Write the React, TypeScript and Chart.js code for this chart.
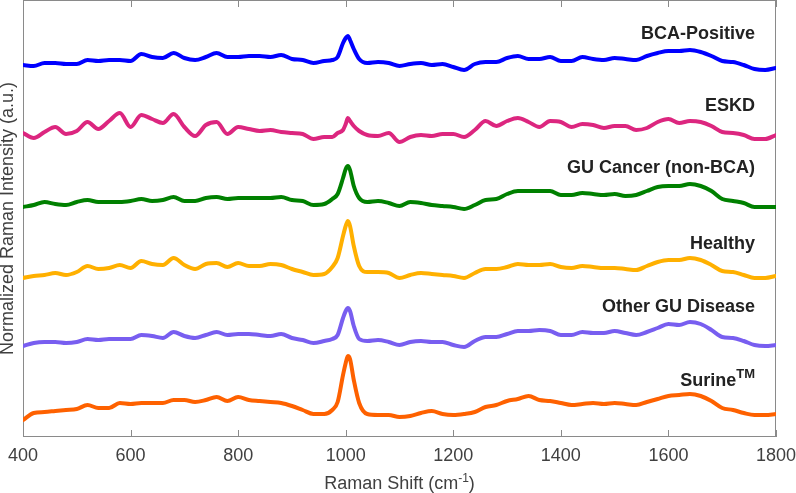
import React, { useEffect, useRef } from "react";
import { Chart, registerables } from "chart.js";

Chart.register(...registerables);

// Raman shift (cm^-1) sampling positions
const ramanShift = [
  400, 420, 440, 460, 480, 500, 520, 540, 560, 580, 600, 620, 640, 660, 680, 700, 720, 740, 760, 780,
  800, 820, 840, 860, 880, 900, 920, 940, 960, 975, 985, 995, 1000, 1004, 1008, 1015, 1025, 1040, 1060, 1080,
  1100, 1120, 1140, 1160, 1180, 1200, 1220, 1240, 1260, 1280, 1300, 1320, 1340, 1360, 1380, 1400, 1420, 1440, 1460, 1480,
  1500, 1520, 1540, 1560, 1580, 1600, 1620, 1640, 1660, 1680, 1700, 1720, 1740, 1760, 1780, 1800,
];

// Normalized (offset) Raman intensities, a.u.
const bcaPositive = [
  3.72, 3.71, 3.74, 3.74, 3.73, 3.73, 3.77, 3.76, 3.77, 3.77, 3.76, 3.83, 3.80, 3.79, 3.84, 3.79, 3.77, 3.80, 3.84, 3.80,
  3.80, 3.81, 3.81, 3.80, 3.82, 3.78, 3.77, 3.74, 3.76, 3.77, 3.80, 3.94, 3.99, 4.01, 3.97, 3.88, 3.78, 3.74, 3.75, 3.74,
  3.71, 3.73, 3.74, 3.72, 3.73, 3.70, 3.67, 3.73, 3.75, 3.75, 3.79, 3.81, 3.78, 3.78, 3.80, 3.76, 3.76, 3.80, 3.78, 3.77,
  3.79, 3.78, 3.77, 3.81, 3.84, 3.86, 3.86, 3.87, 3.85, 3.81, 3.76, 3.75, 3.72, 3.68, 3.67, 3.69,
];
const eskd = [
  3.04, 2.99, 3.05, 3.10, 3.03, 3.06, 3.15, 3.08, 3.16, 3.24, 3.10, 3.22, 3.18, 3.14, 3.23, 3.10, 3.01, 3.12, 3.15, 3.03,
  3.10, 3.08, 3.06, 3.07, 3.05, 3.04, 3.03, 2.98, 3.00, 3.00, 3.04, 3.07, 3.13, 3.19, 3.16, 3.11, 3.06, 3.02, 3.01, 3.04,
  2.95, 3.00, 3.02, 3.01, 3.03, 3.03, 3.00, 3.07, 3.16, 3.11, 3.16, 3.19, 3.15, 3.10, 3.16, 3.15, 3.10, 3.13, 3.12, 3.09,
  3.11, 3.11, 3.07, 3.09, 3.15, 3.18, 3.14, 3.16, 3.15, 3.11, 3.05, 3.04, 3.02, 2.98, 2.98, 3.02,
];
const guCancer = [
  2.30, 2.32, 2.35, 2.33, 2.32, 2.35, 2.37, 2.35, 2.35, 2.35, 2.36, 2.38, 2.36, 2.37, 2.40, 2.36, 2.36, 2.39, 2.40, 2.38,
  2.39, 2.39, 2.39, 2.39, 2.40, 2.37, 2.36, 2.32, 2.33, 2.38, 2.43, 2.59, 2.68, 2.71, 2.67, 2.51, 2.39, 2.35, 2.36, 2.34,
  2.31, 2.35, 2.34, 2.32, 2.31, 2.30, 2.28, 2.32, 2.37, 2.38, 2.43, 2.46, 2.46, 2.46, 2.46, 2.42, 2.42, 2.44, 2.43, 2.42,
  2.43, 2.41, 2.42, 2.46, 2.50, 2.51, 2.51, 2.53, 2.51, 2.46, 2.38, 2.36, 2.34, 2.30, 2.30, 2.30,
];
const healthy = [
  1.59, 1.61, 1.62, 1.64, 1.62, 1.65, 1.71, 1.68, 1.69, 1.72, 1.69, 1.76, 1.73, 1.72, 1.79, 1.72, 1.68, 1.73, 1.74, 1.70,
  1.74, 1.71, 1.71, 1.73, 1.72, 1.68, 1.65, 1.62, 1.63, 1.70, 1.79, 2.01, 2.11, 2.16, 2.11, 1.91, 1.71, 1.65, 1.65, 1.64,
  1.59, 1.62, 1.64, 1.63, 1.62, 1.61, 1.59, 1.64, 1.68, 1.68, 1.70, 1.73, 1.72, 1.72, 1.73, 1.70, 1.69, 1.71, 1.70, 1.69,
  1.69, 1.68, 1.67, 1.71, 1.75, 1.77, 1.77, 1.79, 1.77, 1.72, 1.66, 1.65, 1.62, 1.59, 1.59, 1.61,
];
const otherGU = [
  0.91, 0.94, 0.95, 0.95, 0.94, 0.95, 0.98, 0.97, 0.98, 0.98, 0.98, 1.02, 1.01, 0.99, 1.05, 1.01, 0.99, 1.02, 1.05, 1.02,
  1.03, 1.03, 1.02, 1.01, 1.03, 0.99, 0.97, 0.94, 0.96, 0.98, 1.02, 1.19, 1.26, 1.29, 1.26, 1.11, 0.98, 0.96, 0.97, 0.95,
  0.92, 0.95, 0.96, 0.95, 0.95, 0.92, 0.90, 0.96, 1.00, 1.00, 1.03, 1.06, 1.06, 1.07, 1.06, 1.02, 1.02, 1.05, 1.04, 1.04,
  1.06, 1.04, 1.02, 1.05, 1.09, 1.13, 1.12, 1.15, 1.13, 1.07, 1.00, 0.99, 0.96, 0.92, 0.91, 0.92,
];
const surine = [
  0.17, 0.24, 0.25, 0.26, 0.27, 0.28, 0.32, 0.29, 0.29, 0.34, 0.33, 0.34, 0.34, 0.34, 0.37, 0.37, 0.35, 0.37, 0.40, 0.36,
  0.40, 0.37, 0.36, 0.35, 0.34, 0.31, 0.27, 0.23, 0.23, 0.27, 0.35, 0.62, 0.74, 0.81, 0.78, 0.57, 0.34, 0.23, 0.22, 0.22,
  0.20, 0.21, 0.24, 0.26, 0.23, 0.22, 0.23, 0.25, 0.30, 0.32, 0.36, 0.38, 0.41, 0.37, 0.36, 0.34, 0.32, 0.33, 0.34, 0.33,
  0.34, 0.33, 0.32, 0.35, 0.38, 0.41, 0.42, 0.43, 0.41, 0.36, 0.29, 0.27, 0.24, 0.22, 0.22, 0.23,
];

const seriesNames = ["BCA-Positive", "ESKD", "GU Cancer (non-BCA)", "Healthy", "Other GU Disease", "Surine"];
const seriesSuperscripts = ["", "", "", "", "", "TM"];
const seriesValues = [bcaPositive, eskd, guCancer, healthy, otherGU, surine];
const seriesColors = ["#0000FF", "#DC267F", "#008000", "#FFB000", "#785EF0", "#FE6100"];

// Label anchors (right edge) in data coordinates
const labelShift = 1761;
const labelIntensity = [4.03, 3.31, 2.69, 1.93, 1.3, 0.56];

const xTicks = [400, 600, 800, 1000, 1200, 1400, 1600, 1800];
const xMin = 400;
const xMax = 1800;
const yMin = 0;
const yMax = 4.37;

const FONT = "'Liberation Sans', Arial, Helvetica, sans-serif";
const AXIS_TEXT = "#404040";

const framePlugin = {
  id: "frame",
  beforeDatasetsDraw(chart: any) {
    const { ctx, chartArea, scales } = chart;
    const { left, right, top, bottom } = chartArea;
    ctx.save();
    ctx.strokeStyle = "#8a8a8a";
    ctx.lineWidth = 1;
    ctx.strokeRect(left + 0.5, top + 0.5, right - left - 1, bottom - top - 1);
    ctx.beginPath();
    for (const v of xTicks) {
      const px = Math.round(scales.x.getPixelForValue(v)) + 0.5;
      ctx.moveTo(px, bottom);
      ctx.lineTo(px, bottom - 7);
      ctx.moveTo(px, top);
      ctx.lineTo(px, top + 7);
    }
    ctx.stroke();
    ctx.restore();
  },
};

const textPlugin = {
  id: "texts",
  afterDatasetsDraw(chart: any) {
    const { ctx, chartArea, scales } = chart;
    ctx.save();
    // series labels
    ctx.fillStyle = "#222222";
    ctx.textBaseline = "middle";
    seriesNames.forEach((name, i) => {
      const xr = scales.x.getPixelForValue(labelShift);
      const ym = scales.y.getPixelForValue(labelIntensity[i]);
      const sup = seriesSuperscripts[i];
      let supW = 0;
      if (sup) {
        ctx.font = `bold 13px ${FONT}`;
        supW = ctx.measureText(sup).width;
        ctx.textAlign = "left";
        ctx.fillText(sup, xr - supW, ym - 7);
      }
      ctx.font = `bold 18px ${FONT}`;
      ctx.textAlign = "right";
      ctx.fillText(name, xr - supW, ym);
    });
    // x-axis title with superscript
    const cx = (chartArea.left + chartArea.right) / 2;
    const base = 489;
    const p1 = "Raman Shift (cm";
    const p2 = "-1";
    const p3 = ")";
    ctx.fillStyle = AXIS_TEXT;
    ctx.textBaseline = "alphabetic";
    ctx.textAlign = "left";
    ctx.font = `18px ${FONT}`;
    const w1 = ctx.measureText(p1).width;
    const w3 = ctx.measureText(p3).width;
    ctx.font = `12px ${FONT}`;
    const w2 = ctx.measureText(p2).width;
    let x0 = cx - (w1 + w2 + w3) / 2;
    ctx.font = `18px ${FONT}`;
    ctx.fillText(p1, x0, base);
    x0 += w1;
    ctx.font = `12px ${FONT}`;
    ctx.fillText(p2, x0, base - 7);
    x0 += w2;
    ctx.font = `18px ${FONT}`;
    ctx.fillText(p3, x0, base);
    ctx.restore();
  },
};

export default function App() {
  const canvasRef = useRef<HTMLCanvasElement | null>(null);

  useEffect(() => {
    if (!canvasRef.current) return;
    const datasets = seriesNames.map((name, i) => ({
      label: name,
      data: ramanShift.map((x, j) => ({ x, y: seriesValues[i][j] })),
      borderColor: seriesColors[i],
      backgroundColor: seriesColors[i],
      borderWidth: 4,
      pointRadius: 0,
      fill: false,
      cubicInterpolationMode: "monotone" as const,
      borderCapStyle: "round" as const,
      borderJoinStyle: "round" as const,
    }));

    const chart = new Chart(canvasRef.current, {
      type: "line",
      data: { datasets },
      options: {
        animation: false,
        responsive: false,
        devicePixelRatio: 1,
        layout: { padding: { top: 0, right: 20, bottom: 0, left: 0 } },
        plugins: {
          legend: { display: false },
          tooltip: { enabled: false },
        },
        scales: {
          x: {
            type: "linear",
            min: xMin,
            max: xMax,
            grid: { display: false, drawTicks: false },
            border: { display: false },
            afterBuildTicks: (scale: any) => {
              scale.ticks = xTicks.map((v) => ({ value: v }));
            },
            afterFit: (scale: any) => {
              scale.height = 56;
              scale.paddingLeft = 0;
              scale.paddingRight = 0;
            },
            ticks: {
              autoSkip: false,
              maxRotation: 0,
              padding: 8,
              color: AXIS_TEXT,
              font: { family: FONT, size: 18 },
              callback: (v: any) => String(v),
            },
          },
          y: {
            type: "linear",
            min: yMin,
            max: yMax,
            grid: { display: false, drawTicks: false },
            border: { display: false },
            ticks: { display: false },
            afterFit: (scale: any) => {
              scale.width = 23;
              scale.paddingTop = 0;
              scale.paddingBottom = 0;
            },
            title: {
              display: true,
              text: "Normalized Raman Intensity (a.u.)",
              color: AXIS_TEXT,
              font: { family: FONT, size: 18, lineHeight: 0.9 },
              padding: { top: 0, bottom: 0 },
            },
          },
        },
      },
      plugins: [framePlugin, textPlugin],
    });
    return () => chart.destroy();
  }, []);

  return (
    <div style={{ position: "absolute", left: 0, top: 0, width: 796, height: 493, background: "#ffffff" }}>
      <canvas ref={canvasRef} width={796} height={493} style={{ width: 796, height: 493, display: "block" }} />
    </div>
  );
}
